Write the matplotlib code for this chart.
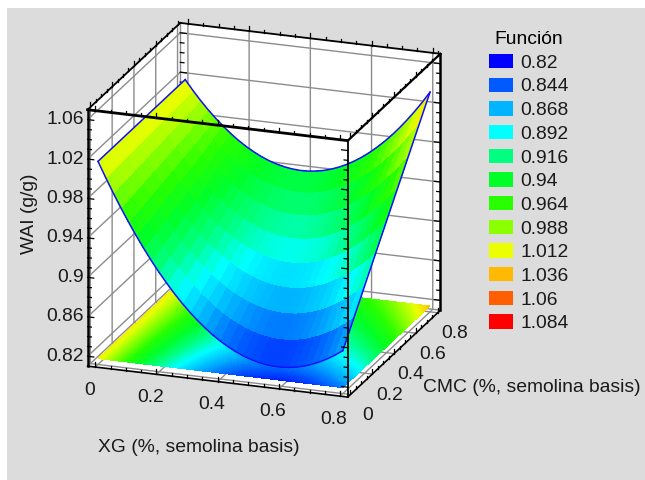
import numpy as np
import matplotlib
matplotlib.use("Agg")
import matplotlib.pyplot as plt
from matplotlib.colors import LinearSegmentedColormap, Normalize
from matplotlib.patches import Patch, Rectangle
from matplotlib.ticker import NullFormatter
from mpl_toolkits.mplot3d import proj3d

plt.rcParams["font.family"] = ["Liberation Sans", "DejaVu Sans"]
plt.rcParams["grid.color"] = "#8c8c8c"
plt.rcParams["grid.linewidth"] = 1.0

# ---------------------------------------------------------------------------
# Data
# ---------------------------------------------------------------------------
xg = [0, .025, .05, .075, .1, .125, .15, .175, .2, .225, .25, .275, .3, .325, .35, .375, .4,
      .425, .45, .475, .5, .525, .55, .575, .6, .625, .65, .675, .7, .725, .75, .775, .8]
cmc = [0, .1, .2, .3, .4, .5, .6, .7, .8]
# one row per CMC value, one column per XG value
wai = [
    [1.016, 1.0005, .9856, .9714, .9579, .9451, .9329, .9214, .9106, .9005, .8910, .8822, .8741, .8667, .8599, .8538, .8484,
     .8437, .8396, .8362, .8335, .8315, .8301, .8294, .8294, .8301, .8314, .8334, .8361, .8395, .8435, .8482, .8536],
    [1.016, 1.0012, .9870, .9735, .9607, .9486, .9371, .9263, .9162, .9068, .8980, .8899, .8825, .8758, .8697, .8643, .8596,
     .8556, .8522, .8495, .8475, .8462, .8455, .8455, .8462, .8476, .8496, .8523, .8557, .8598, .8645, .8699, .8760],
    [1.016, 1.0019, .9884, .9756, .9635, .9521, .9413, .9312, .9218, .9131, .9050, .8976, .8909, .8849, .8795, .8748, .8708,
     .8675, .8648, .8628, .8615, .8609, .8609, .8616, .8630, .8651, .8678, .8712, .8753, .8801, .8855, .8916, .8984],
    [1.016, 1.0026, .9898, .9777, .9663, .9556, .9455, .9361, .9274, .9194, .9120, .9053, .8993, .8940, .8893, .8853, .8820,
     .8794, .8774, .8761, .8755, .8756, .8763, .8777, .8798, .8826, .8860, .8901, .8949, .9004, .9065, .9133, .9208],
    [1.016, 1.0033, .9912, .9798, .9691, .9591, .9497, .9410, .9330, .9257, .9190, .9130, .9077, .9031, .8991, .8958, .8932,
     .8913, .8900, .8894, .8895, .8903, .8917, .8938, .8966, .9001, .9042, .9090, .9145, .9207, .9275, .9350, .9432],
    [1.016, 1.0040, .9926, .9819, .9719, .9626, .9539, .9459, .9386, .9320, .9260, .9207, .9161, .9122, .9089, .9063, .9044,
     .9032, .9026, .9027, .9035, .9050, .9071, .9099, .9134, .9176, .9224, .9279, .9341, .9410, .9485, .9567, .9656],
    [1.016, 1.0047, .9940, .9840, .9747, .9661, .9581, .9508, .9442, .9383, .9330, .9284, .9245, .9213, .9187, .9168, .9156,
     .9151, .9152, .9160, .9175, .9197, .9225, .9260, .9302, .9351, .9406, .9468, .9537, .9613, .9695, .9784, .9880],
    [1.016, 1.0054, .9954, .9861, .9775, .9696, .9623, .9557, .9498, .9446, .9400, .9361, .9329, .9304, .9285, .9273, .9268,
     .9270, .9278, .9293, .9315, .9344, .9379, .9421, .9470, .9526, .9588, .9657, .9733, .9816, .9905, 1.0001, 1.0104],
    [1.016, 1.0061, .9968, .9882, .9803, .9731, .9665, .9606, .9554, .9509, .9470, .9438, .9413, .9395, .9383, .9378, .9380,
     .9389, .9404, .9426, .9455, .9491, .9533, .9582, .9638, .9701, .9770, .9846, .9929, 1.0019, 1.0115, 1.0218, 1.0328],
]

legend_values = ["0.82", "0.844", "0.868", "0.892", "0.916", "0.94",
                 "0.964", "0.988", "1.012", "1.036", "1.06", "1.084"]
legend_colors = ["#0000ff", "#005aff", "#00b4ff", "#00ffff", "#00ff80", "#00ff28",
                 "#28ff00", "#8cff00", "#ebff00", "#ffb900", "#ff5f00", "#ff0000"]

x_ticks = [0, .2, .4, .6, .8]
x_tick_labels = ["0", "0.2", "0.4", "0.6", "0.8"]
y_ticks = [0, .2, .4, .6, .8]
y_tick_labels = ["0", "0.2", "0.4", "0.6", "0.8"]
z_ticks = [.82, .86, .9, .94, .98, 1.02, 1.06]
z_tick_labels = ["0.82", "0.86", "0.9", "0.94", "0.98", "1.02", "1.06"]

XMIN, XMAX = -.025, .825
YMIN, YMAX = -.025, .825
ZMIN, ZMAX = .81, 1.07
FLOOR = .816
FS = 13.9
TEXT = "#1a1a1a"

X, Y = np.meshgrid(xg, cmc)
Z = np.array(wai)

cmap = LinearSegmentedColormap.from_list("funcion", legend_colors, N=512)
norm = Normalize(.82, 1.084)

# ---------------------------------------------------------------------------
# Figure
# ---------------------------------------------------------------------------
fig = plt.figure(figsize=(6.45, 4.8), dpi=100)
fig.patches.append(Rectangle((7 / 645, 0), 638 / 645, 472 / 480, transform=fig.transFigure,
                             facecolor="#dcdcdc", edgecolor="none", zorder=-5))

ax = fig.add_axes([.0415, .0683, .7163, .9625], projection="3d", proj_type="ortho",
                  computed_zorder=False)
ax.patch.set_visible(False)
ax.view_init(elev=19.5, azim=-70.4)
ax.set_box_aspect((1, 1, .985), zoom=1.0)
ax.set_xlim(XMIN, XMAX, view_margin=0)
ax.set_ylim(YMIN, YMAX, view_margin=0)
ax.set_zlim(ZMIN, ZMAX, view_margin=0)
ax.set_xticks(x_ticks)
ax.set_yticks(y_ticks)
ax.set_zticks(z_ticks)
for axis in (ax.xaxis, ax.yaxis, ax.zaxis):
    axis.set_major_formatter(NullFormatter())
    axis.set_pane_color("white")
    axis.pane.set_edgecolor("none")
    axis.line.set_color((0, 0, 0, 0))
ax.tick_params(color=(0, 0, 0, 0))
ax.grid(True)

# projection on the floor, then the surface itself
ax.contourf(X, Y, Z, levels=np.linspace(.82, 1.084, 89), cmap=cmap, norm=norm,
            zdir="z", offset=FLOOR, zorder=2, extend="both")
ax.plot_surface(X, Y, Z, rstride=1, cstride=1, cmap=cmap, norm=norm, shade=False,
                linewidth=0, antialiased=False, zorder=3)

# blue outline of the surface
ax.plot(X[0], Y[0], Z[0], color="#1010ff", lw=1.1, zorder=4)
ax.plot(X[-1], Y[-1], Z[-1], color="#1010ff", lw=1.1, zorder=4)
ax.plot(X[:, 0], Y[:, 0], Z[:, 0], color="#1010ff", lw=1.1, zorder=4)
ax.plot(X[:, -1], Y[:, -1], Z[:, -1], color="#1010ff", lw=1.1, zorder=4)


def edge(p, q, lw, color="black", zorder=5):
    ax.plot([p[0], q[0]], [p[1], q[1]], [p[2], q[2]], color=color, lw=lw,
            solid_capstyle="projecting", zorder=zorder)


def label_at(x, y, z, s, dx, dy, ha="center"):
    # place a 2D label at the projected position of a box point, offset in pixels
    px, py, _ = proj3d.proj_transform(x, y, z, ax.get_proj())
    ax.annotate(s, xy=(px, py), xycoords="data", xytext=(dx, dy), textcoords="offset pixels",
                fontsize=FS, ha=ha, va="center", color=TEXT, annotation_clip=False)


# hidden rear edges in gray
edge((XMIN, YMAX, ZMIN), (XMIN, YMAX, ZMAX), 1.0, "#8c8c8c", 1)
edge((XMIN, YMIN, ZMIN), (XMIN, YMAX, ZMIN), 1.0, "#8c8c8c", 1)
edge((XMIN, YMAX, ZMIN), (XMAX, YMAX, ZMIN), 1.0, "#8c8c8c", 1)

# black box
edge((XMIN, YMIN, ZMAX), (XMAX, YMIN, ZMAX), 2.0)
edge((XMIN, YMIN, ZMIN), (XMIN, YMIN, ZMAX), 1.8)
edge((XMAX, YMAX, ZMIN), (XMAX, YMAX, ZMAX), 1.8)
edge((XMAX, YMIN, ZMIN), (XMAX, YMIN, ZMAX), 1.3)
edge((XMIN, YMIN, ZMAX), (XMIN, YMAX, ZMAX), 1.3)
edge((XMIN, YMAX, ZMAX), (XMAX, YMAX, ZMAX), 1.3)
edge((XMAX, YMIN, ZMAX), (XMAX, YMAX, ZMAX), 1.6)
edge((XMIN, YMIN, ZMIN), (XMAX, YMIN, ZMIN), 1.2)
edge((XMAX, YMIN, ZMIN), (XMAX, YMAX, ZMIN), 1.2)

# tick marks: every .05 on x and y, every .01 on z, longer on the labelled ones
for v in np.arange(0, .801, .05):
    long_tick = abs(v / .2 - round(v / .2)) < 1e-6
    h = .005 if long_tick else .003
    for yy, zz in ((YMIN, ZMIN), (YMIN, ZMAX), (YMAX, ZMAX)):
        edge((v, yy, zz), (v, yy, zz + h), .9)
    for xx, zz in ((XMIN, ZMAX), (XMAX, ZMAX), (XMAX, ZMIN)):
        edge((xx, v, zz), (xx, v, zz + h), .9)
for v in np.arange(.82, 1.0651, .01):
    long_tick = abs((v - .82) / .04 - round((v - .82) / .04)) < 1e-6
    d = .02 if long_tick else .012
    edge((XMIN, YMIN, v), (XMIN + d, YMIN, v), .9)
    edge((XMIN, YMAX, v), (XMIN + d, YMAX, v), .9, zorder=1)
    edge((XMAX, YMIN, v), (XMAX - d, YMIN, v), .9)
    edge((XMAX, YMAX, v), (XMAX - d, YMAX, v), .9)

# tick labels
for v, s in zip(x_ticks, x_tick_labels):
    label_at(v, YMIN, ZMIN, s, -6, -23)
for v, s in zip(y_ticks, y_tick_labels):
    label_at(XMAX, v, ZMIN, s, 17, -21)
for v, s in zip(z_ticks, z_tick_labels):
    label_at(XMIN, YMIN, v, s, -4, 0, ha="right")

# axis titles
fig.text(199 / 645, 1 - 447 / 480, "XG (%, semolina basis)", fontsize=FS, ha="center", va="center", color=TEXT)
fig.text(532 / 645, 1 - 388 / 480, "CMC (%, semolina basis)", fontsize=FS, ha="center", va="center", color=TEXT)
fig.text(30 / 645, 1 - 214 / 480, "WAI (g/g)", fontsize=FS, rotation=90, ha="center", va="center", color=TEXT)

handles = [Patch(facecolor=c, edgecolor="none", label=s) for c, s in zip(legend_colors, legend_values)]
fig.legend(handles=handles, title="Función", loc="upper left", bbox_to_anchor=(479 / 645, 1 - 21.5 / 480),
           frameon=False, fontsize=FS, title_fontsize=FS, handlelength=1.24, handleheight=.78,
           handletextpad=.41, labelspacing=.295, borderpad=0, labelcolor=TEXT)

fig.savefig("out.png", dpi=100)
